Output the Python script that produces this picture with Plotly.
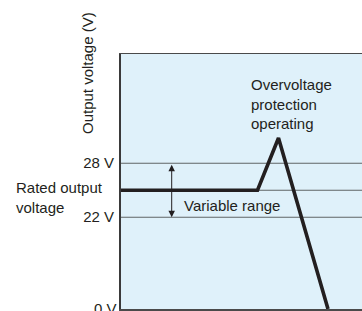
import plotly.graph_objects as go

# ---- data (schematic) ----
# time axis (arbitrary units) and output voltage (V) of the curve
curve_time = [0.0, 13.65, 15.75, 20.7]
curve_volts = [25.0, 25.0, 30.8, 0.0]

# reference levels drawn as thin lines
level_volts = [28.0, 25.0, 22.0]

# y tick labels
tick_volts = [28.0, 22.0]
tick_labels = ["28 V", "22 V"]
zero_label = "0 V"

# variable-range arrow
range_time = 5.07
range_low, range_high = 22.0, 28.0

# axis break: 0 V is drawn at the bottom edge of a compressed axis
Y_MIN, Y_MAX = 11.8, 40.14
X_MIN, X_MAX = 0.0, 24.1


def to_axis(v):
    return Y_MIN if v <= 0 else v


INK = "#231f20"
FONT = "Liberation Sans, Arial, sans-serif"

fig = go.Figure()

fig.add_trace(go.Scatter(
    x=curve_time,
    y=[to_axis(v) for v in curve_volts],
    mode="lines",
    line=dict(color=INK, width=3.6),
    hoverinfo="skip",
    showlegend=False,
    cliponaxis=False,
))

shapes = []
for lv in level_volts:
    shapes.append(dict(
        type="line", xref="paper", yref="y",
        x0=0, x1=1, y0=to_axis(lv), y1=to_axis(lv),
        line=dict(color="#5f6466", width=1.1),
        layer="below",
    ))

annotations = [
    dict(
        x=range_time, y=range_low, ax=range_time, ay=range_high,
        xref="x", yref="y", axref="x", ayref="y",
        text="", showarrow=True, arrowhead=2, arrowside="end+start",
        arrowsize=1.3, arrowwidth=1, arrowcolor=INK,
    ),
    dict(
        x=6.05, y=23.3, xref="x", yref="y",
        text="Variable range", showarrow=False,
        xanchor="left", yanchor="middle",
        font=dict(family=FONT, size=15, color=INK),
    ),
    dict(
        x=12.8, y=34.6, xref="x", yref="y",
        text="Overvoltage<br>protection<br>operating", showarrow=False,
        xanchor="left", yanchor="middle", align="left",
        font=dict(family=FONT, size=15, color=INK),
    ),
    dict(
        x=0, y=to_axis(25.0), xref="paper", yref="y", xshift=-107,
        yshift=-7,
        text="Rated output<br>voltage", showarrow=False,
        xanchor="left", yanchor="middle", align="left",
        font=dict(family=FONT, size=15, color=INK),
    ),
    dict(
        x=0, y=to_axis(0.0), xref="paper", yref="y", xshift=-2,
        yshift=1,
        text=zero_label, showarrow=False,
        xanchor="right", yanchor="middle",
        font=dict(family=FONT, size=15, color=INK),
    ),
    dict(
        x=0, y=0.9235, xref="paper", yref="paper", xshift=-33.5,
        text="Output voltage (V)", showarrow=False, textangle=-90,
        xanchor="center", yanchor="middle",
        font=dict(family=FONT, size=15, color=INK),
    ),
]

fig.update_layout(
    width=362, height=311, autosize=False,
    margin=dict(l=121, r=0, t=54, b=2, pad=0),
    paper_bgcolor="white",
    plot_bgcolor="#dff1fa",
    font=dict(family=FONT, size=15, color=INK),
    showlegend=False,
    shapes=shapes,
    annotations=annotations,
    xaxis=dict(
        range=[X_MIN, X_MAX], showgrid=False, zeroline=False,
        showticklabels=False, ticks="",
        showline=True, mirror=True, linecolor="#4a4a4a", linewidth=1.5,
        fixedrange=True,
    ),
    yaxis=dict(
        range=[Y_MIN, Y_MAX], showgrid=False, zeroline=False,
        tickvals=[to_axis(v) for v in tick_volts], ticktext=tick_labels,
        ticks="", ticklabelstandoff=2,
        tickfont=dict(family=FONT, size=15, color=INK),
        showline=True, linecolor="#3a3a3a", linewidth=2,
        fixedrange=True,
    ),
)

fig.write_html(
    "out.html",
    config={"displayModeBar": False, "staticPlot": True},
    post_script="document.body.style.margin='0';"
                "document.body.style.overflow='hidden';",
)
